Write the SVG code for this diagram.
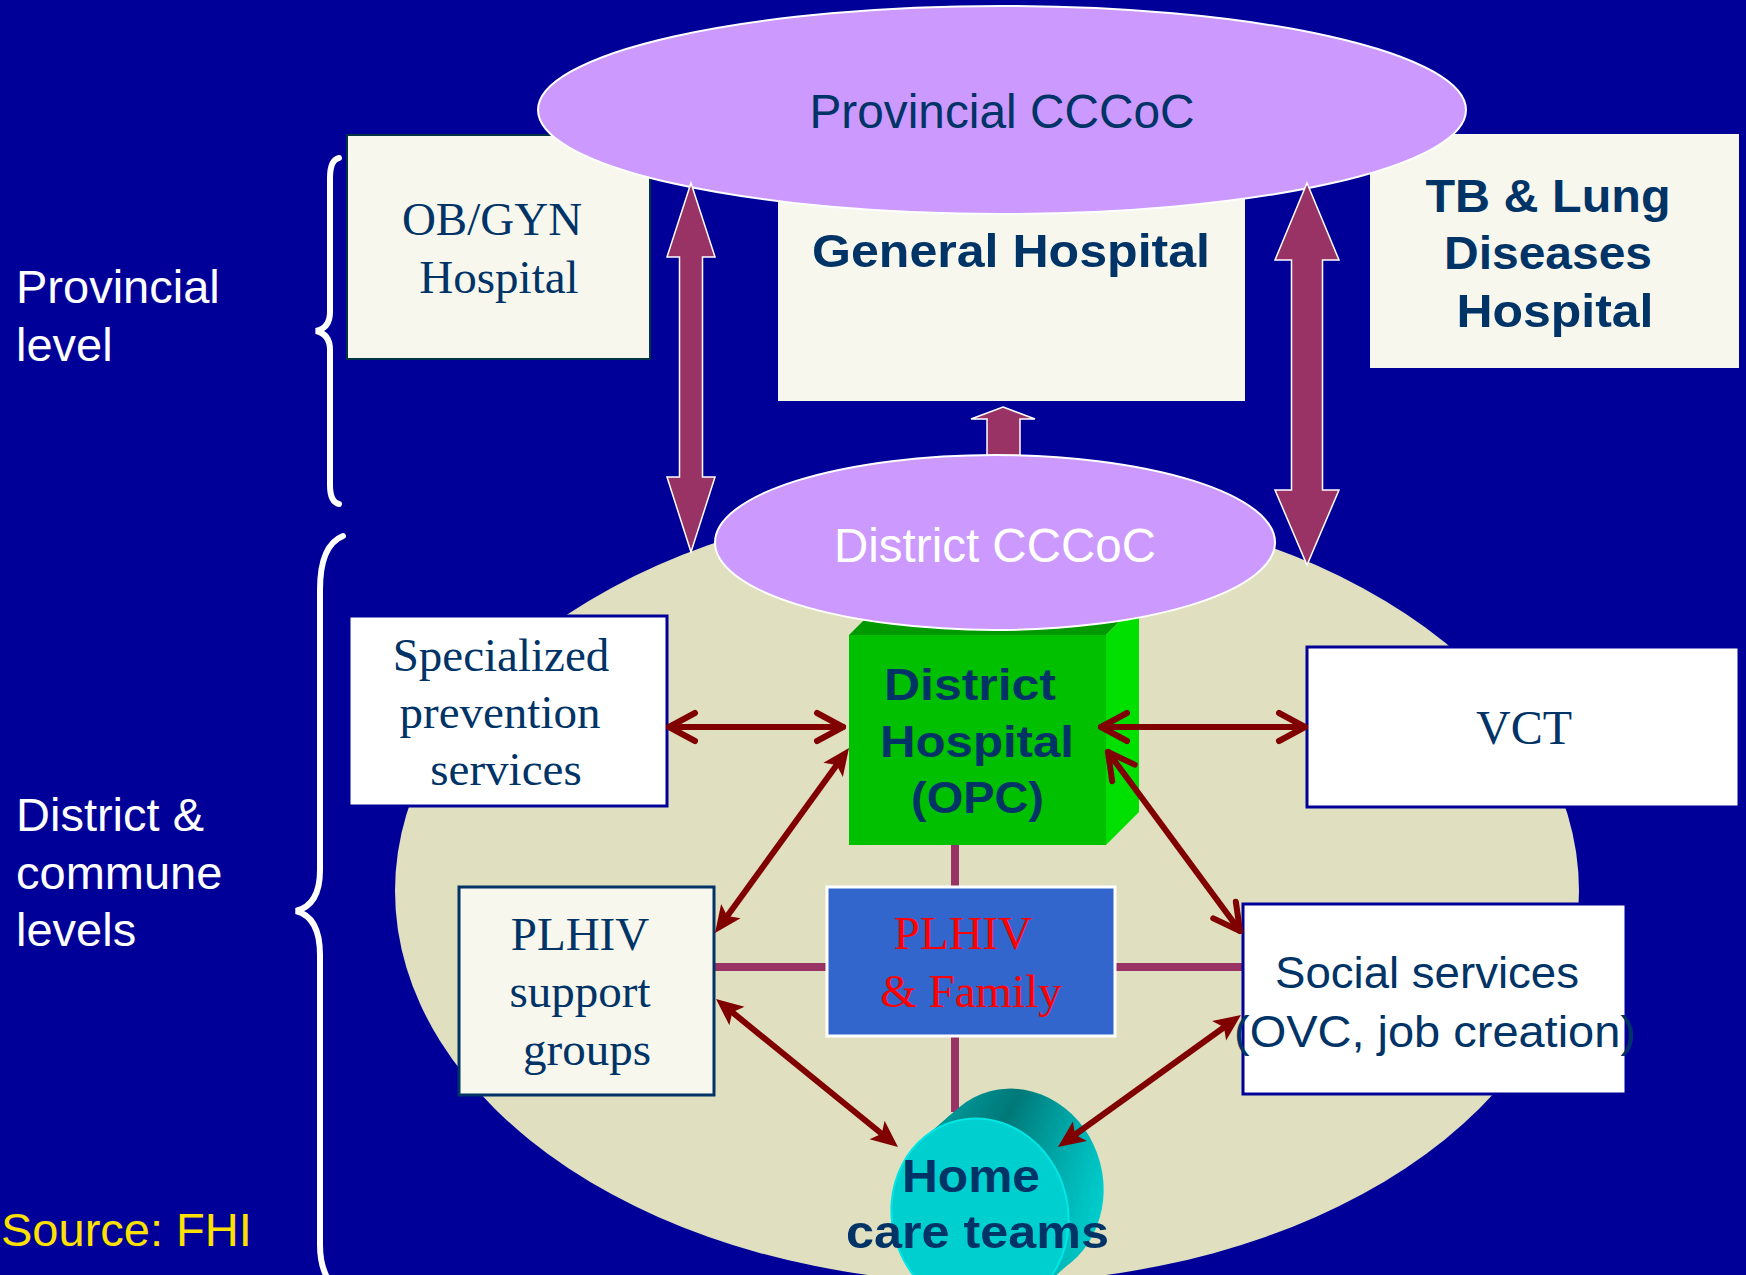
<svg xmlns="http://www.w3.org/2000/svg" width="1746" height="1275" viewBox="0 0 1746 1275">
<style>
.sans{font-family:"Liberation Sans",Arial,sans-serif}
.serif{font-family:"Liberation Serif","Times New Roman",serif}
.navy{fill:#003366}
.bold{font-weight:bold}
.lbl{font-family:"Liberation Sans",Arial,sans-serif;font-size:47px;fill:#ffffff}
.big{fill:#993366;stroke:#ffffff;stroke-width:1.5}
.link{stroke:#993366;stroke-width:8;fill:none}
.red{stroke:#800000;stroke-width:6;fill:none}
.brace{stroke:#ffffff;stroke-width:6;fill:none;stroke-linecap:round}
</style>
<defs>
<marker id="chev" markerUnits="userSpaceOnUse" markerWidth="44" markerHeight="44" viewBox="-36 -22 44 44" refX="0" refY="0" orient="auto-start-reverse">
<path d="M-26,-14 L0,0 L-26,14" fill="none" stroke="#800000" stroke-width="6" stroke-linecap="round" stroke-linejoin="round"/>
</marker>
<marker id="tri" markerUnits="userSpaceOnUse" markerWidth="44" markerHeight="36" viewBox="-30 -18 44 36" refX="0" refY="0" orient="auto-start-reverse">
<path d="M8,0 L-19,-12 L-13,0 L-19,12 Z" fill="#800000"/>
</marker>
<linearGradient id="teal" gradientUnits="userSpaceOnUse" x1="900" y1="1100" x2="1110" y2="1200">
<stop offset="0" stop-color="#00B8B8"/>
<stop offset="0.55" stop-color="#007878"/>
<stop offset="1" stop-color="#00D0D0"/>
</linearGradient>
</defs>
<rect x="0" y="0" width="1746" height="1275" fill="#000099"/>

<g id="district-area">
<ellipse cx="987" cy="891" rx="592" ry="392" fill="#E0E0C0"/>
</g>

<g id="braces">
<path class="brace" d="M339,158 Q330,160 330,178 L330,312 Q330,328 316,331 Q330,334 330,350 L330,485 Q330,502 339,504"/>
<path class="brace" d="M343,536 Q320,545 320,590 L320,870 Q320,905 296,911 Q320,917 320,955 L320,1245 Q320,1268 330,1282"/>
</g>

<g id="labels">
<text class="lbl" x="16" y="303">Provincial</text>
<text class="lbl" x="16" y="361">level</text>
<text class="lbl" x="16" y="831">District &amp;</text>
<text class="lbl" x="16" y="889">commune</text>
<text class="lbl" x="16" y="946">levels</text>
<text class="sans" x="1" y="1246" font-size="47" fill="#FFE100">Source: FHI</text>
</g>

<g id="obgyn-hospital">
<rect x="347" y="135" width="303" height="224" fill="#F7F7EE" stroke="#003344" stroke-width="2"/>
<text class="serif navy" font-size="47" text-anchor="middle"><tspan x="492" y="235">OB/GYN</tspan><tspan x="499" y="293">Hospital</tspan></text>
</g>

<g id="general-hospital">
<rect x="778" y="180" width="467" height="221" fill="#F7F7EE"/>
<text class="sans bold navy" font-size="47" text-anchor="middle" x="1011" y="267" textLength="398" lengthAdjust="spacingAndGlyphs">General Hospital</text>
</g>

<g id="tb-hospital">
<rect x="1370" y="134" width="369" height="234" fill="#F7F7EE"/>
<text class="sans bold navy" font-size="47" text-anchor="middle" x="1548" y="212" textLength="245" lengthAdjust="spacingAndGlyphs">TB &amp; Lung</text>
<text class="sans bold navy" font-size="47" text-anchor="middle" x="1548" y="269" textLength="208" lengthAdjust="spacingAndGlyphs">Diseases</text>
<text class="sans bold navy" font-size="47" text-anchor="middle" x="1555" y="327" textLength="197" lengthAdjust="spacingAndGlyphs">Hospital</text>
</g>

<g id="provincial-cccoc">
<ellipse cx="1002" cy="110" rx="464" ry="104" fill="#CC99FF" stroke="#ffffff" stroke-width="2"/>
<text class="sans navy" font-size="48" text-anchor="middle" x="1002" y="128" textLength="385" lengthAdjust="spacingAndGlyphs">Provincial CCCoC</text>
</g>

<g id="big-arrows">
<polygon class="big" points="691,183 715,257 702.5,257 702.5,477 715,477 691,552 667,477 679.5,477 679.5,257 667,257"/>
<polygon class="big" points="1307,183 1339,260 1322.5,260 1322.5,490 1339,490 1307,565 1275,490 1291.5,490 1291.5,260 1275,260"/>
<polygon class="big" points="1003,407 1035,419 1020,419 1020,462 987,462 987,419 971,419"/>
</g>

<g id="district-hospital">
<polygon points="849,635 882,602 1139,602 1106,635" fill="#009900"/>
<polygon points="1106,635 1139,602 1139,812 1106,845" fill="#00E000"/>
<rect x="849" y="635" width="257" height="210" fill="#00C000"/>
</g>

<g id="district-cccoc">
<ellipse cx="995" cy="542.5" rx="280" ry="87.5" fill="#CC99FF" stroke="#ffffff" stroke-width="2"/>
<text class="sans" fill="#ffffff" font-size="48" text-anchor="middle" x="995" y="562" textLength="322" lengthAdjust="spacingAndGlyphs">District CCCoC</text>
</g>

<g id="connectors">
<line class="link" x1="955" y1="845" x2="955" y2="888"/>
<line class="link" x1="955" y1="1035" x2="955" y2="1112"/>
<line class="link" x1="714" y1="967" x2="827" y2="967"/>
<line class="link" x1="1115" y1="967" x2="1243" y2="967"/>
</g>

<g id="specialized-prevention">
<rect x="349" y="616" width="318" height="190" fill="#ffffff" stroke="#000099" stroke-width="3"/>
<text class="serif navy" font-size="47" text-anchor="middle"><tspan x="501" y="671">Specialized</tspan><tspan x="500" y="728">prevention</tspan><tspan x="506" y="785">services</tspan></text>
</g>

<g id="vct">
<rect x="1307" y="647" width="432" height="160" fill="#ffffff" stroke="#000099" stroke-width="3"/>
<text class="serif navy" font-size="48" text-anchor="middle" x="1524" y="744">VCT</text>
</g>

<g id="plhiv-support">
<rect x="459" y="887" width="255" height="208" fill="#F7F7EE" stroke="#003366" stroke-width="3"/>
<text class="serif navy" font-size="47" text-anchor="middle"><tspan x="580" y="950">PLHIV</tspan><tspan x="580" y="1007">support</tspan><tspan x="587" y="1065">groups</tspan></text>
</g>

<g id="plhiv-family">
<rect x="827" y="887" width="288" height="149" fill="#3366CC" stroke="#ffffff" stroke-width="3"/>
<text class="serif" fill="#FF0000" font-size="47" text-anchor="middle"><tspan x="963" y="949">PLHIV</tspan><tspan x="971" y="1007">&amp; Family</tspan></text>
</g>

<g id="social-services">
<rect x="1243" y="904" width="383" height="190" fill="#ffffff" stroke="#000099" stroke-width="3"/>
<text class="sans navy" font-size="45" text-anchor="middle" x="1427" y="988" textLength="304" lengthAdjust="spacingAndGlyphs">Social services</text>
<text class="sans navy" font-size="45" text-anchor="middle" x="1435" y="1047" textLength="402" lengthAdjust="spacingAndGlyphs">(OVC, job creation)</text>
</g>

<g id="home-care-teams">
<ellipse cx="1015" cy="1185" rx="88" ry="97" transform="rotate(-15 1015 1185)" fill="url(#teal)"/>
<ellipse cx="1006" cy="1192.5" rx="88" ry="97" transform="rotate(-15 1006 1192.5)" fill="url(#teal)"/>
<ellipse cx="997.5" cy="1200" rx="88" ry="97" transform="rotate(-15 997.5 1200)" fill="url(#teal)"/>
<ellipse cx="989" cy="1207.5" rx="88" ry="97" transform="rotate(-15 989 1207.5)" fill="url(#teal)"/>
<ellipse cx="980" cy="1215" rx="88" ry="97" transform="rotate(-15 980 1215)" fill="#00CFCF" stroke="#00E6E6" stroke-width="2"/>
</g>

<g id="arrows">
<line class="red" x1="669" y1="727" x2="843" y2="727" marker-start="url(#chev)" marker-end="url(#chev)" stroke-linecap="round"/>
<line class="red" x1="1101" y1="727" x2="1305" y2="727" marker-start="url(#chev)" marker-end="url(#chev)" stroke-linecap="round"/>
<line class="red" x1="1108" y1="752" x2="1240" y2="931" marker-start="url(#chev)" marker-end="url(#chev)" stroke-linecap="round"/>
<line class="red" x1="844.3" y1="754.5" x2="719.7" y2="926.5" marker-start="url(#tri)" marker-end="url(#tri)"/>
<line class="red" x1="722.2" y1="1004" x2="891.8" y2="1142" marker-start="url(#tri)" marker-end="url(#tri)"/>
<line class="red" x1="1234.5" y1="1019.7" x2="1064.5" y2="1142.3" marker-start="url(#tri)" marker-end="url(#tri)"/>
</g>

<g id="node-labels">
<text class="sans bold navy" font-size="45" text-anchor="middle" x="970" y="700" textLength="172" lengthAdjust="spacingAndGlyphs">District</text>
<text class="sans bold navy" font-size="45" text-anchor="middle" x="977" y="757" textLength="194" lengthAdjust="spacingAndGlyphs">Hospital</text>
<text class="sans bold navy" font-size="45" text-anchor="middle" x="977.5" y="813" textLength="133" lengthAdjust="spacingAndGlyphs">(OPC)</text>
<text class="sans bold navy" font-size="46" text-anchor="middle" x="971" y="1192" textLength="138" lengthAdjust="spacingAndGlyphs">Home</text>
<text class="sans bold navy" font-size="46" text-anchor="middle" x="977.5" y="1248" textLength="263" lengthAdjust="spacingAndGlyphs">care teams</text>
</g>
</svg>
